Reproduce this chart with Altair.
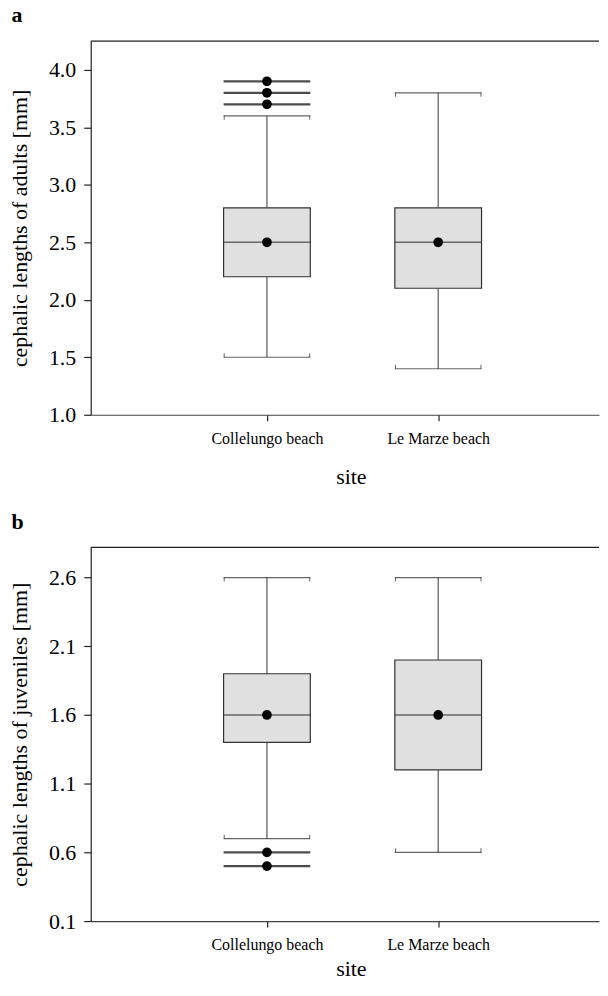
import altair as alt
import pandas as pd

sites = ["Collelungo beach", "Le Marze beach"]
site_pos = [1, 2]

# panel a: adults
adult_low = [1.5, 1.4]
adult_q1 = [2.2, 2.1]
adult_median = [2.5, 2.5]
adult_q3 = [2.8, 2.8]
adult_high = [3.6, 3.8]
adult_mean = [2.5, 2.5]
adult_out_pos = [1, 1, 1]
adult_out_val = [3.7, 3.8, 3.9]
adult_ticks = [1.0, 1.5, 2.0, 2.5, 3.0, 3.5, 4.0]

# panel b: juveniles
juv_low = [0.7, 0.6]
juv_q1 = [1.4, 1.2]
juv_median = [1.6, 1.6]
juv_q3 = [1.9, 2.0]
juv_high = [2.6, 2.6]
juv_mean = [1.6, 1.6]
juv_out_pos = [1, 1]
juv_out_val = [0.6, 0.5]
juv_ticks = [0.1, 0.6, 1.1, 1.6, 2.1, 2.6]

W = 510
H = 375
BOXW = 87
FONT = "Times New Roman, Liberation Serif, serif"


def panel(letter, ytitle, low, q1, med, q3, high, mean, opos, oval, ydomain, yticks, site_pad):
    df = pd.DataFrame({"site": sites, "pos": site_pos, "low": low, "q1": q1,
                       "med": med, "q3": q3, "high": high, "mean": mean})
    dfo = pd.DataFrame({"pos": opos, "val": oval})
    labexpr = "datum.value == 1 ? '%s' : (datum.value == 2 ? '%s' : '')" % (sites[0], sites[1])
    xs = alt.X("pos:Q", scale=alt.Scale(domain=[0, 2.91], nice=False, zero=False),
               axis=alt.Axis(values=site_pos, labelExpr=labexpr, title="site",
                             labelFontSize=16, labelPadding=10, tickSize=6,
                             titleFontSize=22, titlePadding=site_pad, titleX=261,
                             domainColor="#444"))
    ys = alt.Y("low:Q", scale=alt.Scale(domain=ydomain, nice=False, zero=False),
               axis=alt.Axis(values=yticks, format=".1f", title=ytitle,
                             labelFontSize=22, tickSize=7, labelPadding=8,
                             titleFontSize=22, titlePadding=17))
    base = alt.Chart(df)
    w1 = base.mark_rule(color="#555", strokeWidth=1.2).encode(x=xs, y=ys, y2="q1:Q")
    w2 = base.mark_rule(color="#555", strokeWidth=1.2).encode(x="pos:Q", y="q3:Q", y2="high:Q")
    caps_lo = base.mark_tick(orient="horizontal", size=BOXW, thickness=1.2, color="#222").encode(
        x="pos:Q", y="low:Q")
    caps_hi = base.mark_tick(orient="horizontal", size=BOXW, thickness=1.2, color="#222").encode(
        x="pos:Q", y="high:Q")
    hooks = []
    for dx in (-BOXW / 2 + 0.6, BOXW / 2 - 0.6):
        hooks.append(base.mark_tick(orient="vertical", size=4, thickness=1, color="#222",
                                    xOffset=dx, yOffset=-2).encode(x="pos:Q", y="low:Q"))
        hooks.append(base.mark_tick(orient="vertical", size=4, thickness=1, color="#222",
                                    xOffset=dx, yOffset=2).encode(x="pos:Q", y="high:Q"))
    box = base.mark_bar(orient="vertical", size=BOXW, fill="#e0e0e0", stroke="#333",
                        strokeWidth=1.2).encode(x="pos:Q", y="q1:Q", y2="q3:Q")
    medl = base.mark_tick(orient="horizontal", size=BOXW, thickness=1.4, color="#333").encode(
        x="pos:Q", y="med:Q")
    meanp = base.mark_circle(size=95, color="black", opacity=1).encode(x="pos:Q", y="mean:Q")
    oline = alt.Chart(dfo).mark_tick(orient="horizontal", size=BOXW, thickness=2.2,
                                     color="black").encode(x="pos:Q", y="val:Q")
    opt = alt.Chart(dfo).mark_circle(size=95, color="black", opacity=1).encode(
        x="pos:Q", y="val:Q")
    top = alt.Chart(pd.DataFrame({"k": [0]})).mark_rule(color="#222", strokeWidth=1.2).encode(
        x=alt.value(0), x2=alt.value(W), y=alt.value(0))
    return alt.layer(w1, w2, caps_lo, caps_hi, *hooks, box, medl, meanp, oline, opt,
                     top).properties(
        width=W, height=H,
        title=alt.TitleParams(letter, anchor="start", frame="bounds", font=FONT,
                              fontSize=22, fontWeight="bold", color="black", offset=13,
                              dx=3))


pa = panel("a", "cephalic lengths of adults [mm]", adult_low, adult_q1, adult_median,
           adult_q3, adult_high, adult_mean, adult_out_pos, adult_out_val, [1.0, 4.25],
           adult_ticks, 19.5)
pb = panel("b", "cephalic lengths of juveniles [mm]", juv_low, juv_q1, juv_median,
           juv_q3, juv_high, juv_mean, juv_out_pos, juv_out_val, [0.1, 2.82],
           juv_ticks, 5.5)

chart = alt.vconcat(pa, pb, spacing=23).properties(
    padding={"top": -5.5, "left": 0, "right": 0, "bottom": 0}).configure_view(
    stroke=None).configure_axis(
    grid=False, labelFont=FONT, titleFont=FONT, labelColor="black", titleColor="black",
    titleFontWeight="normal", tickColor="#222", domainColor="#222", domainWidth=1.2,
    tickWidth=1.2)

chart.save("out.html", embed_options={"renderer": "svg", "actions": False})
